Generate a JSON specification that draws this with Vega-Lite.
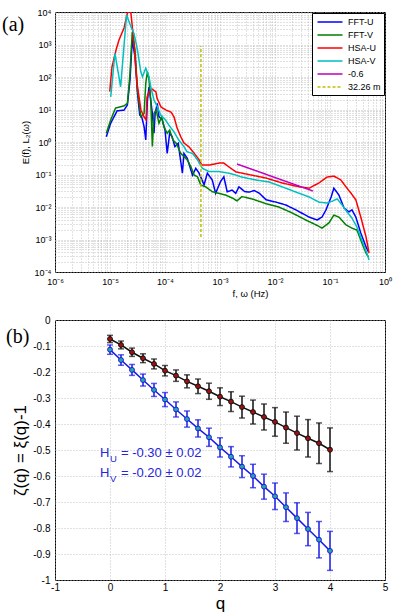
{
  "$schema": "https://vega.github.io/schema/vega-lite/v6.json",
  "padding": {"left": 1, "top": 7, "right": 4, "bottom": 1},
  "spacing": 16,
  "background": "white",
  "resolve": {"scale": {"color": "independent", "strokeDash": "independent", "fill": "independent", "stroke": "independent"}, "legend": {"color": "independent", "strokeDash": "independent", "fill": "independent", "stroke": "independent"}},
  "config": {
    "font": "Liberation Sans",
    "view": {"stroke": "black", "strokeWidth": 1},
    "axis": {"domain": false, "tickColor": "black", "labelColor": "black", "titleColor": "black", "titleFontWeight": "normal", "labelFont": "Liberation Sans", "titleFont": "Liberation Sans", "gridColor": "#b4b4b4", "gridDash": [1, 2], "gridWidth": 0.8, "labelOverlap": false, "labelFlush": false, "labelBound": false}
  },
  "vconcat": [
    {
      "width": 330,
      "height": 260,
      "data": {"values": [
        {"s":"FFT-U","f":8.57e-6,"E":1.45},{"s":"FFT-U","f":1.03e-5,"E":3.8},{"s":"FFT-U","f":1.35e-5,"E":9.12},{"s":"FFT-U","f":1.8e-5,"E":9.55},{"s":"FFT-U","f":2.07e-5,"E":13.8},{"s":"FFT-U","f":2.31e-5,"E":81.3},{"s":"FFT-U","f":2.54e-5,"E":1380},{"s":"FFT-U","f":2.85e-5,"E":417},{"s":"FFT-U","f":3.16e-5,"E":31.6},{"s":"FFT-U","f":3.47e-5,"E":6.76},{"s":"FFT-U","f":3.76e-5,"E":6.03},{"s":"FFT-U","f":4.17e-5,"E":2.95},{"s":"FFT-U","f":4.47e-5,"E":1.15},{"s":"FFT-U","f":4.79e-5,"E":19.5},{"s":"FFT-U","f":5.13e-5,"E":50.1},{"s":"FFT-U","f":5.89e-5,"E":7.59},{"s":"FFT-U","f":6.31e-5,"E":1.86},{"s":"FFT-U","f":6.61e-5,"E":7.59},{"s":"FFT-U","f":7.24e-5,"E":15.5},{"s":"FFT-U","f":7.76e-5,"E":6.03},{"s":"FFT-U","f":8.91e-5,"E":4.79},{"s":"FFT-U","f":1e-4,"E":2.34},{"s":"FFT-U","f":1.096e-4,"E":0.447},{"s":"FFT-U","f":1.216e-4,"E":1.86},{"s":"FFT-U","f":1.35e-4,"E":1.45},{"s":"FFT-U","f":1.51e-4,"E":0.724},{"s":"FFT-U","f":1.74e-4,"E":0.912},{"s":"FFT-U","f":2.07e-4,"E":0.11},{"s":"FFT-U","f":2.21e-4,"E":0.447},{"s":"FFT-U","f":2.54e-4,"E":0.316},{"s":"FFT-U","f":3.16e-4,"E":0.0955},{"s":"FFT-U","f":3.63e-4,"E":0.155},{"s":"FFT-U","f":4.17e-4,"E":0.11},{"s":"FFT-U","f":5.13e-4,"E":0.0479},{"s":"FFT-U","f":5.89e-4,"E":0.11},{"s":"FFT-U","f":7.24e-4,"E":0.0676},{"s":"FFT-U","f":8.32e-4,"E":0.0263},{"s":"FFT-U","f":1.02e-3,"E":0.0603},{"s":"FFT-U","f":1.175e-3,"E":0.0851},{"s":"FFT-U","f":1.35e-3,"E":0.0295},{"s":"FFT-U","f":1.66e-3,"E":0.0331},{"s":"FFT-U","f":1.93e-3,"E":0.0263},{"s":"FFT-U","f":2.21e-3,"E":0.0417},{"s":"FFT-U","f":2.8e-3,"E":0.03},{"s":"FFT-U","f":3.39e-3,"E":0.0288},{"s":"FFT-U","f":4.2e-3,"E":0.032},{"s":"FFT-U","f":5.13e-3,"E":0.0269},{"s":"FFT-U","f":6.92e-3,"E":0.0166},{"s":"FFT-U","f":0.0105,"E":0.0141},{"s":"FFT-U","f":0.0158,"E":0.0115},{"s":"FFT-U","f":0.024,"E":0.00813},{"s":"FFT-U","f":0.0417,"E":0.0049},{"s":"FFT-U","f":0.0582,"E":0.00398},{"s":"FFT-U","f":0.0716,"E":0.0049},{"s":"FFT-U","f":0.0845,"E":0.00813},{"s":"FFT-U","f":0.105,"E":0.0204},{"s":"FFT-U","f":0.1175,"E":0.038},{"s":"FFT-U","f":0.145,"E":0.0234},{"s":"FFT-U","f":0.18,"E":0.00933},{"s":"FFT-U","f":0.221,"E":0.00708},{"s":"FFT-U","f":0.251,"E":0.00813},{"s":"FFT-U","f":0.295,"E":0.0049},{"s":"FFT-U","f":0.363,"E":0.00158},{"s":"FFT-U","f":0.452,"E":0.00059},{"s":"FFT-U","f":0.5,"E":0.00042},
        {"s":"FFT-V","f":8.57e-6,"E":1.86},{"s":"FFT-V","f":1.03e-5,"E":4.79},{"s":"FFT-V","f":1.26e-5,"E":11},{"s":"FFT-V","f":1.8e-5,"E":12.9},{"s":"FFT-V","f":2.07e-5,"E":15.5},{"s":"FFT-V","f":2.29e-5,"E":102},{"s":"FFT-V","f":2.54e-5,"E":2455},{"s":"FFT-V","f":2.85e-5,"E":676},{"s":"FFT-V","f":3.16e-5,"E":39.8},{"s":"FFT-V","f":3.63e-5,"E":6.03},{"s":"FFT-V","f":4.17e-5,"E":7.59},{"s":"FFT-V","f":4.47e-5,"E":64.6},{"s":"FFT-V","f":4.79e-5,"E":145},{"s":"FFT-V","f":5.13e-5,"E":81.3},{"s":"FFT-V","f":5.5e-5,"E":19.5},{"s":"FFT-V","f":5.89e-5,"E":0.724},{"s":"FFT-V","f":6.31e-5,"E":7.59},{"s":"FFT-V","f":6.92e-5,"E":9.55},{"s":"FFT-V","f":7.76e-5,"E":3.8},{"s":"FFT-V","f":8.71e-5,"E":6.03},{"s":"FFT-V","f":9.55e-5,"E":2.95},{"s":"FFT-V","f":1.096e-4,"E":1.86},{"s":"FFT-V","f":1.216e-4,"E":2.34},{"s":"FFT-V","f":1.396e-4,"E":1.15},{"s":"FFT-V","f":1.6e-4,"E":0.912},{"s":"FFT-V","f":1.93e-4,"E":0.447},{"s":"FFT-V","f":2.21e-4,"E":0.355},{"s":"FFT-V","f":2.54e-4,"E":0.282},{"s":"FFT-V","f":2.95e-4,"E":0.174},{"s":"FFT-V","f":3.39e-4,"E":0.0955},{"s":"FFT-V","f":3.89e-4,"E":0.0851},{"s":"FFT-V","f":4.47e-4,"E":0.0479},{"s":"FFT-V","f":5.5e-4,"E":0.0417},{"s":"FFT-V","f":7.24e-4,"E":0.0295},{"s":"FFT-V","f":9.55e-4,"E":0.0263},{"s":"FFT-V","f":1.26e-3,"E":0.0234},{"s":"FFT-V","f":1.66e-3,"E":0.019},{"s":"FFT-V","f":2.04e-3,"E":0.0155},{"s":"FFT-V","f":2.51e-3,"E":0.0209},{"s":"FFT-V","f":3.8e-3,"E":0.0178},{"s":"FFT-V","f":6.92e-3,"E":0.0126},{"s":"FFT-V","f":0.0117,"E":0.01},{"s":"FFT-V","f":0.0204,"E":0.0066},{"s":"FFT-V","f":0.0363,"E":0.00398},{"s":"FFT-V","f":0.0556,"E":0.00282},{"s":"FFT-V","f":0.0716,"E":0.00224},{"s":"FFT-V","f":0.0955,"E":0.00324},{"s":"FFT-V","f":0.1175,"E":0.00562},{"s":"FFT-V","f":0.145,"E":0.0049},{"s":"FFT-V","f":0.195,"E":0.00282},{"s":"FFT-V","f":0.251,"E":0.00224},{"s":"FFT-V","f":0.309,"E":0.00195},{"s":"FFT-V","f":0.38,"E":0.00078},{"s":"FFT-V","f":0.452,"E":0.00038},{"s":"FFT-V","f":0.5,"E":0.00029},
        {"s":"HSA-U","f":9.89e-6,"E":35.5},{"s":"HSA-U","f":1.086e-5,"E":204},{"s":"HSA-U","f":1.288e-5,"E":676},{"s":"HSA-U","f":1.459e-5,"E":1380},{"s":"HSA-U","f":1.8e-5,"E":3236},{"s":"HSA-U","f":2.12e-5,"E":11000},{"s":"HSA-U","f":2.4e-5,"E":9333},{"s":"HSA-U","f":2.73e-5,"E":1122},{"s":"HSA-U","f":3.09e-5,"E":66},{"s":"HSA-U","f":3.66e-5,"E":9.55},{"s":"HSA-U","f":4.17e-5,"E":5.89},{"s":"HSA-U","f":4.52e-5,"E":4.79},{"s":"HSA-U","f":4.71e-5,"E":24},{"s":"HSA-U","f":5.13e-5,"E":34.7},{"s":"HSA-U","f":5.81e-5,"E":42.7},{"s":"HSA-U","f":6.85e-5,"E":34.7},{"s":"HSA-U","f":7.16e-5,"E":22.4},{"s":"HSA-U","f":8.45e-5,"E":12},{"s":"HSA-U","f":1.047e-4,"E":9.55},{"s":"HSA-U","f":1.29e-4,"E":8.32},{"s":"HSA-U","f":1.46e-4,"E":5.89},{"s":"HSA-U","f":1.66e-4,"E":2.69},{"s":"HSA-U","f":1.95e-4,"E":1.41},{"s":"HSA-U","f":2.21e-4,"E":0.933},{"s":"HSA-U","f":2.73e-4,"E":0.708},{"s":"HSA-U","f":3.37e-4,"E":0.457},{"s":"HSA-U","f":4.17e-4,"E":0.282},{"s":"HSA-U","f":4.68e-4,"E":0.195},{"s":"HSA-U","f":6.31e-4,"E":0.195},{"s":"HSA-U","f":9.55e-4,"E":0.224},{"s":"HSA-U","f":1.175e-3,"E":0.224},{"s":"HSA-U","f":1.46e-3,"E":0.17},{"s":"HSA-U","f":1.95e-3,"E":0.12},{"s":"HSA-U","f":3.8e-3,"E":0.0955},{"s":"HSA-U","f":6.92e-3,"E":0.0776},{"s":"HSA-U","f":0.0135,"E":0.055},{"s":"HSA-U","f":0.0275,"E":0.0417},{"s":"HSA-U","f":0.0417,"E":0.038},{"s":"HSA-U","f":0.0631,"E":0.055},{"s":"HSA-U","f":0.0881,"E":0.0832},{"s":"HSA-U","f":0.1175,"E":0.0891},{"s":"HSA-U","f":0.158,"E":0.0676},{"s":"HSA-U","f":0.195,"E":0.0417},{"s":"HSA-U","f":0.24,"E":0.0269},{"s":"HSA-U","f":0.295,"E":0.0166},{"s":"HSA-U","f":0.363,"E":0.0049},{"s":"HSA-U","f":0.452,"E":0.0012},{"s":"HSA-U","f":0.513,"E":0.00038},
        {"s":"HSA-V","f":1.03e-5,"E":24.5},{"s":"HSA-V","f":1.23e-5,"E":537},{"s":"HSA-V","f":1.56e-5,"E":50},{"s":"HSA-V","f":2.0e-5,"E":8128},{"s":"HSA-V","f":2.4e-5,"E":3548},{"s":"HSA-V","f":2.73e-5,"E":2188},{"s":"HSA-V","f":3.16e-5,"E":676},{"s":"HSA-V","f":3.63e-5,"E":145},{"s":"HSA-V","f":3.89e-5,"E":102},{"s":"HSA-V","f":4.47e-5,"E":186},{"s":"HSA-V","f":5.13e-5,"E":102},{"s":"HSA-V","f":5.5e-5,"E":50},{"s":"HSA-V","f":6.31e-5,"E":19.5},{"s":"HSA-V","f":7.24e-5,"E":12.3},{"s":"HSA-V","f":8.32e-5,"E":6.76},{"s":"HSA-V","f":1.02e-4,"E":4.79},{"s":"HSA-V","f":1.175e-4,"E":3.31},{"s":"HSA-V","f":1.445e-4,"E":2.09},{"s":"HSA-V","f":1.78e-4,"E":1.15},{"s":"HSA-V","f":2.21e-4,"E":0.724},{"s":"HSA-V","f":2.51e-4,"E":0.501},{"s":"HSA-V","f":3.16e-4,"E":0.447},{"s":"HSA-V","f":3.89e-4,"E":0.282},{"s":"HSA-V","f":4.79e-4,"E":0.155},{"s":"HSA-V","f":6.31e-4,"E":0.123},{"s":"HSA-V","f":9.55e-4,"E":0.123},{"s":"HSA-V","f":1.445e-3,"E":0.11},{"s":"HSA-V","f":1.95e-3,"E":0.0955},{"s":"HSA-V","f":2.51e-3,"E":0.0832},{"s":"HSA-V","f":4.52e-3,"E":0.0676},{"s":"HSA-V","f":7.76e-3,"E":0.0589},{"s":"HSA-V","f":0.0135,"E":0.0417},{"s":"HSA-V","f":0.024,"E":0.0288},{"s":"HSA-V","f":0.0417,"E":0.0204},{"s":"HSA-V","f":0.0631,"E":0.0141},{"s":"HSA-V","f":0.0881,"E":0.0132},{"s":"HSA-V","f":0.11,"E":0.0151},{"s":"HSA-V","f":0.135,"E":0.0178},{"s":"HSA-V","f":0.166,"E":0.0115},{"s":"HSA-V","f":0.204,"E":0.00708},{"s":"HSA-V","f":0.251,"E":0.00457},{"s":"HSA-V","f":0.309,"E":0.0024},{"s":"HSA-V","f":0.38,"E":0.00095},{"s":"HSA-V","f":0.468,"E":0.00038},{"s":"HSA-V","f":0.513,"E":0.000234},
        {"s":"-0.6","f":2.04e-3,"E":0.21},{"s":"-0.6","f":0.049,"E":0.031},
        {"s":"32.26 m","f":4.5e-4,"E":0.0012},{"s":"32.26 m","f":4.5e-4,"E":900}
      ]},
      "resolve": {"axis": {"x": "independent", "y": "independent"}},
      "layer": [
        {
          "mark": {"type": "line", "strokeWidth": 1.5, "clip": true},
          "encoding": {
            "x": {"field": "f", "type": "quantitative", "scale": {"type": "log", "domain": [1e-6, 1], "nice": false},
              "axis": {"orient": "bottom", "title": "f, ω (Hz)", "titleFontSize": 9.5, "titleX": 195, "titlePadding": 2, "labelFontSize": 9, "labelPadding": 5, "grid": true, "ticks": false,
                "values": [1e-6,2e-6,3e-6,4e-6,5e-6,6e-6,7e-6,8e-6,9e-6,1e-5,2e-5,3e-5,4e-5,5e-5,6e-5,7e-5,8e-5,9e-5,1e-4,2e-4,3e-4,4e-4,5e-4,6e-4,7e-4,8e-4,9e-4,0.001,0.002,0.003,0.004,0.005,0.006,0.007,0.008,0.009,0.01,0.02,0.03,0.04,0.05,0.06,0.07,0.08,0.09,0.1,0.2,0.3,0.4,0.5,0.6,0.7,0.8,0.9,1],
                "labelExpr": "abs(log(datum.value)/LN10 - round(log(datum.value)/LN10)) < 0.001 ? '10' + replace(replace(replace(replace(replace(replace(replace(replace(toString(round(log(datum.value)/LN10)), '-', '⁻'), '0', '⁰'), '1', '¹'), '2', '²'), '3', '³'), '4', '⁴'), '5', '⁵'), '6', '⁶') : ''"}},
            "y": {"field": "E", "type": "quantitative", "scale": {"type": "log", "domain": [1e-4, 1e4], "nice": false},
              "axis": {"orient": "left", "title": "E(f), L₂(ω)", "titleFontSize": 9.5, "titlePadding": 4, "labelFontSize": 9, "labelPadding": 4, "grid": true, "ticks": false,
                "values": [1e-4,2e-4,3e-4,4e-4,5e-4,6e-4,7e-4,8e-4,9e-4,0.001,0.002,0.003,0.004,0.005,0.006,0.007,0.008,0.009,0.01,0.02,0.03,0.04,0.05,0.06,0.07,0.08,0.09,0.1,0.2,0.3,0.4,0.5,0.6,0.7,0.8,0.9,1,2,3,4,5,6,7,8,9,10,20,30,40,50,60,70,80,90,100,200,300,400,500,600,700,800,900,1000,2000,3000,4000,5000,6000,7000,8000,9000,10000],
                "labelExpr": "abs(log(datum.value)/LN10 - round(log(datum.value)/LN10)) < 0.001 ? '10' + replace(replace(replace(replace(replace(replace(replace(replace(toString(round(log(datum.value)/LN10)), '-', '⁻'), '0', '⁰'), '1', '¹'), '2', '²'), '3', '³'), '4', '⁴'), '5', '⁵'), '6', '⁶') : ''"}},
            "color": {"field": "s", "type": "nominal",
              "scale": {"domain": ["FFT-U", "FFT-V", "HSA-U", "HSA-V", "-0.6", "32.26 m"], "range": ["#0000ff", "#008000", "#ff0000", "#00bfbf", "#bf00bf", "#bfbf00"]},
              "legend": {"title": null, "orient": "top-right", "offset": 1, "padding": 3, "fillColor": "white", "strokeColor": "black", "labelFontSize": 9, "labelFont": "Liberation Sans", "symbolType": "M-2.5,0H2.5", "symbolSize": 100, "symbolOffset": 9, "symbolStrokeWidth": 1.6, "rowPadding": 2, "labelOffset": 12}},
            "strokeDash": {"field": "s", "type": "nominal",
              "scale": {"domain": ["FFT-U", "FFT-V", "HSA-U", "HSA-V", "-0.6", "32.26 m"], "range": [[1, 0], [1, 0], [1, 0], [1, 0], [1, 0], [3, 2]]},
              "legend": {"title": null, "orient": "top-right", "offset": 1, "padding": 3, "fillColor": "white", "strokeColor": "black", "labelFontSize": 9, "labelFont": "Liberation Sans", "symbolType": "M-2.5,0H2.5", "symbolSize": 100, "symbolOffset": 9, "symbolStrokeWidth": 1.6, "rowPadding": 2, "labelOffset": 12}}
          }
        },
        {
          "data": {"values": [{"t": "(a)", "f": 1.09e-7, "E": 2600}]},
          "mark": {"type": "text", "align": "left", "baseline": "alphabetic", "font": "Liberation Serif", "fontSize": 20, "color": "black"},
          "encoding": {
            "x": {"field": "f", "type": "quantitative", "axis": null},
            "y": {"field": "E", "type": "quantitative", "axis": null},
            "text": {"field": "t"}
          }
        }
      ]
    },
    {
      "width": 330,
      "height": 260,
      "data": {"values": [
        {"s":"U","q":0,"z":-0.114,"e":0.018},{"s":"U","q":0.2,"z":-0.154,"e":0.02},{"s":"U","q":0.4,"z":-0.192,"e":0.021},{"s":"U","q":0.6,"z":-0.231,"e":0.023},{"s":"U","q":0.8,"z":-0.269,"e":0.025},{"s":"U","q":1.0,"z":-0.306,"e":0.027},{"s":"U","q":1.2,"z":-0.344,"e":0.029},{"s":"U","q":1.4,"z":-0.381,"e":0.031},{"s":"U","q":1.6,"z":-0.417,"e":0.033},{"s":"U","q":1.8,"z":-0.451,"e":0.035},{"s":"U","q":2.0,"z":-0.49,"e":0.037},{"s":"U","q":2.2,"z":-0.526,"e":0.039},{"s":"U","q":2.4,"z":-0.564,"e":0.042},{"s":"U","q":2.6,"z":-0.6,"e":0.045},{"s":"U","q":2.8,"z":-0.641,"e":0.048},{"s":"U","q":3.0,"z":-0.678,"e":0.051},{"s":"U","q":3.2,"z":-0.72,"e":0.055},{"s":"U","q":3.4,"z":-0.762,"e":0.059},{"s":"U","q":3.6,"z":-0.804,"e":0.064},{"s":"U","q":3.8,"z":-0.845,"e":0.07},{"s":"U","q":4.0,"z":-0.888,"e":0.075},
        {"s":"V","q":0,"z":-0.073,"e":0.014},{"s":"V","q":0.2,"z":-0.096,"e":0.015},{"s":"V","q":0.4,"z":-0.124,"e":0.016},{"s":"V","q":0.6,"z":-0.147,"e":0.017},{"s":"V","q":0.8,"z":-0.169,"e":0.019},{"s":"V","q":1.0,"z":-0.195,"e":0.02},{"s":"V","q":1.2,"z":-0.214,"e":0.022},{"s":"V","q":1.4,"z":-0.236,"e":0.025},{"s":"V","q":1.6,"z":-0.255,"e":0.028},{"s":"V","q":1.8,"z":-0.274,"e":0.031},{"s":"V","q":2.0,"z":-0.295,"e":0.034},{"s":"V","q":2.2,"z":-0.314,"e":0.038},{"s":"V","q":2.4,"z":-0.335,"e":0.042},{"s":"V","q":2.6,"z":-0.354,"e":0.046},{"s":"V","q":2.8,"z":-0.373,"e":0.05},{"s":"V","q":3.0,"z":-0.392,"e":0.055},{"s":"V","q":3.2,"z":-0.414,"e":0.06},{"s":"V","q":3.4,"z":-0.435,"e":0.065},{"s":"V","q":3.6,"z":-0.455,"e":0.072},{"s":"V","q":3.8,"z":-0.474,"e":0.078},{"s":"V","q":4.0,"z":-0.499,"e":0.084}
      ]},
      "resolve": {"axis": {"x": "independent", "y": "independent"}},
      "layer": [
        {
          "mark": {"type": "line", "strokeWidth": 1.5},
          "encoding": {
            "x": {"field": "q", "type": "quantitative", "scale": {"domain": [-1, 5], "nice": false},
              "axis": {"orient": "bottom", "title": "q", "titleFontSize": 17, "titlePadding": 3, "labelFontSize": 10, "labelPadding": 2, "grid": true, "ticks": false, "values": [-1, 0, 1, 2, 3, 4, 5], "labelExpr": "toString(datum.value)"}},
            "y": {"field": "z", "type": "quantitative", "scale": {"domain": [-1, 0], "nice": false},
              "axis": {"orient": "left", "title": "ζ(q) = ξ(q)-1", "titleFontSize": 17, "titlePadding": 3, "labelFontSize": 10, "labelPadding": 5, "grid": true, "ticks": false, "values": [-1, -0.9, -0.8, -0.7, -0.6, -0.5, -0.4, -0.3, -0.2, -0.1, 0], "labelExpr": "toString(round(datum.value*10)/10)"}},
            "color": {"field": "s", "type": "nominal", "scale": {"domain": ["U", "V"], "range": ["#1a1ae6", "#111111"]}, "legend": null}
          }
        },
        {
          "mark": {"type": "errorbar", "ticks": {"size": 6}, "thickness": 1.5},
          "encoding": {
            "x": {"field": "q", "type": "quantitative", "axis": null},
            "y": {"field": "z", "type": "quantitative", "axis": null},
            "yError": {"field": "e"},
            "color": {"field": "s", "type": "nominal", "scale": {"domain": ["U", "V"], "range": ["#1a1ae6", "#111111"]}, "legend": null}
          }
        },
        {
          "mark": {"type": "point", "filled": true, "size": 24, "strokeWidth": 1, "opacity": 1},
          "encoding": {
            "x": {"field": "q", "type": "quantitative", "axis": null},
            "y": {"field": "z", "type": "quantitative", "axis": null},
            "fill": {"field": "s", "type": "nominal", "scale": {"domain": ["U", "V"], "range": ["#2aa8a0", "#a01010"]},
              "legend": {"title": null, "orient": "top-right", "offset": 3, "padding": 3, "fillColor": "white", "strokeColor": "black", "labelFontSize": 12, "labelFont": "Liberation Sans", "symbolType": "M-2.5,0H-0.6M0.6,0H2.5M0.6,0A0.6,0.6,0,1,1,-0.6,0A0.6,0.6,0,1,1,0.6,0Z", "symbolSize": 81, "symbolOffset": 8, "symbolStrokeWidth": 1.3, "rowPadding": 1, "labelOffset": 11}},
            "stroke": {"field": "s", "type": "nominal", "scale": {"domain": ["U", "V"], "range": ["#1a1ae6", "#111111"]},
              "legend": {"title": null, "orient": "top-right", "offset": 3, "padding": 3, "fillColor": "white", "strokeColor": "black", "labelFontSize": 12, "labelFont": "Liberation Sans", "symbolType": "M-2.5,0H-0.6M0.6,0H2.5M0.6,0A0.6,0.6,0,1,1,-0.6,0A0.6,0.6,0,1,1,0.6,0Z", "symbolSize": 81, "symbolOffset": 8, "symbolStrokeWidth": 1.3, "rowPadding": 1, "labelOffset": 11}}
          }
        },
        {
          "data": {"values": [
            {"t": "H", "q": -0.18, "z": -0.527}, {"t": "= -0.30 ± 0.02", "q": 0.2, "z": -0.527},
            {"t": "H", "q": -0.18, "z": -0.604}, {"t": "= -0.20 ± 0.02", "q": 0.2, "z": -0.604}
          ]},
          "mark": {"type": "text", "align": "left", "baseline": "alphabetic", "fontSize": 13, "color": "#2424dc", "font": "Liberation Sans"},
          "encoding": {
            "x": {"field": "q", "type": "quantitative", "axis": null},
            "y": {"field": "z", "type": "quantitative", "axis": null},
            "text": {"field": "t"}
          }
        },
        {
          "data": {"values": [
            {"t": "U", "q": 0.0, "z": -0.547}, {"t": "V", "q": 0.0, "z": -0.624}
          ]},
          "mark": {"type": "text", "align": "left", "baseline": "alphabetic", "fontSize": 9.5, "color": "#2424dc", "font": "Liberation Sans"},
          "encoding": {
            "x": {"field": "q", "type": "quantitative", "axis": null},
            "y": {"field": "z", "type": "quantitative", "axis": null},
            "text": {"field": "t"}
          }
        },
        {
          "data": {"values": [{"t": "(b)", "q": -1.89, "z": -0.09}]},
          "mark": {"type": "text", "align": "left", "baseline": "alphabetic", "font": "Liberation Serif", "fontSize": 20, "color": "black"},
          "encoding": {
            "x": {"field": "q", "type": "quantitative", "axis": null},
            "y": {"field": "z", "type": "quantitative", "axis": null},
            "text": {"field": "t"}
          }
        }
      ]
    }
  ]
}
